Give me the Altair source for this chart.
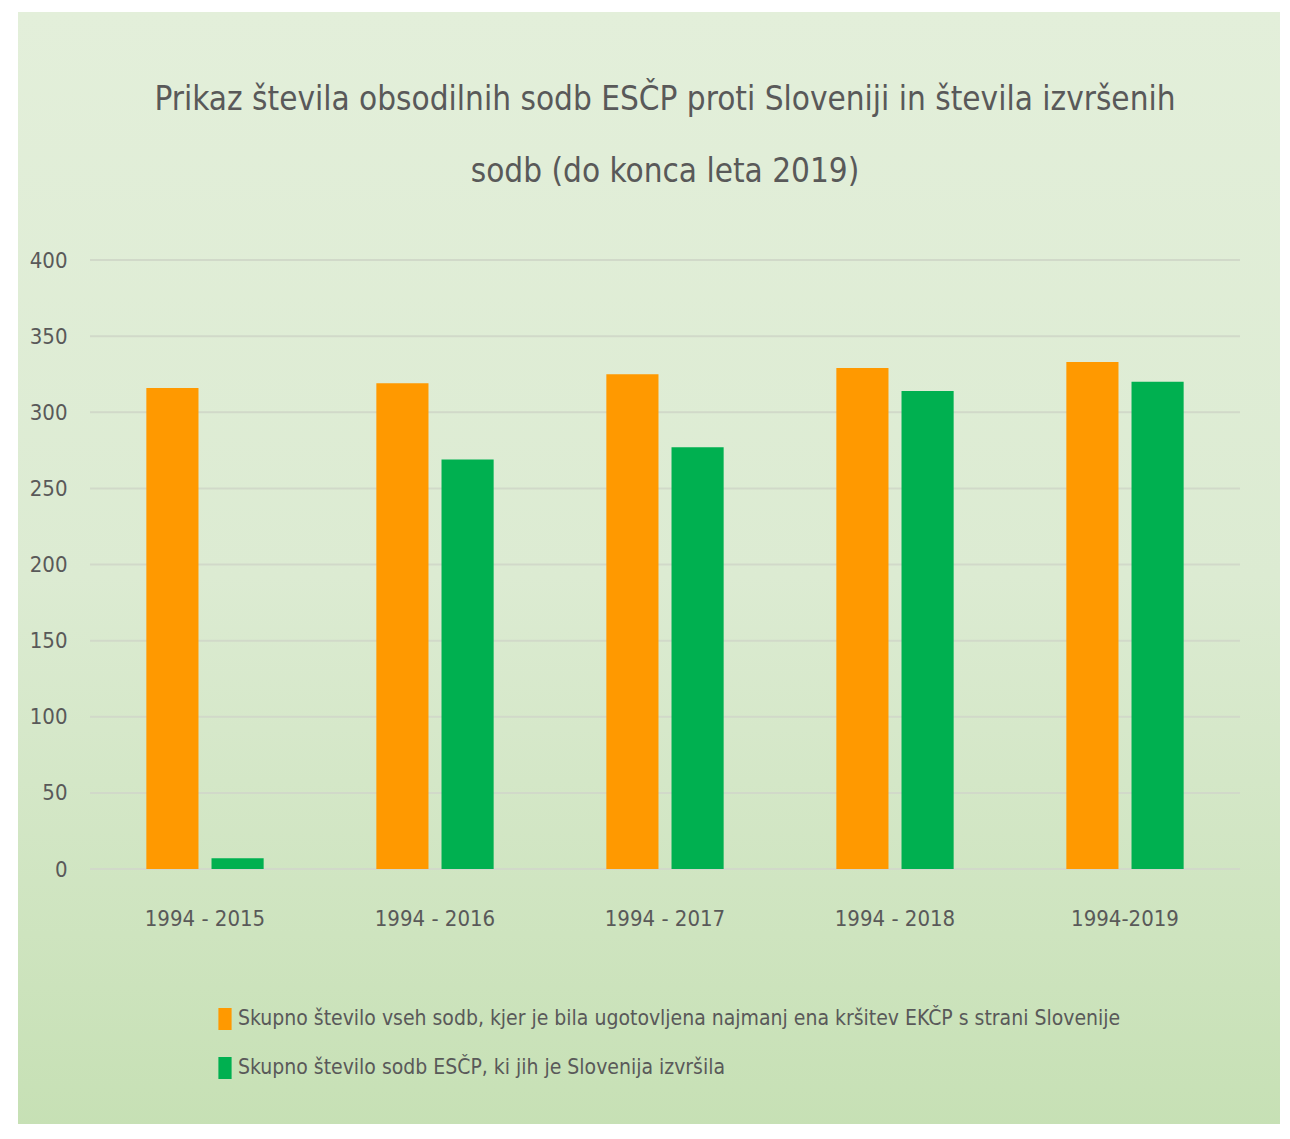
import altair as alt
import pandas as pd

periods = ["1994 - 2015", "1994 - 2016", "1994 - 2017", "1994 - 2018", "1994-2019"]
series_names = [
    "Skupno število vseh sodb, kjer je bila ugotovljena najmanj ena kršitev EKČP s strani Slovenije",
    "Skupno število sodb ESČP, ki jih je Slovenija izvršila",
]
total_judgments = [316, 319, 325, 329, 333]
executed_judgments = [7, 269, 277, 314, 320]
series_colors = ["#FF9900", "#00B050"]
y_ticks = [0, 50, 100, 150, 200, 250, 300, 350, 400]
title_lines = [
    "Prikaz števila obsodilnih sodb ESČP proti Sloveniji in števila izvršenih",
    "sodb (do konca leta 2019)",
]

rows = []
for p, a, b in zip(periods, total_judgments, executed_judgments):
    rows.append({"period": p, "series": series_names[0], "value": a})
    rows.append({"period": p, "series": series_names[1], "value": b})
df = pd.DataFrame(rows)
grid_df = pd.DataFrame({"value": y_ticks})

FONT = "Liberation Sans Narrow, DejaVu Sans Condensed, Roboto, sans-serif"
TXT = "#595959"

W, H = 1150, 609
PL, PT = 82, 252

bg = alt.Chart(alt.Data(values=[{}])).mark_rect(
    color=alt.LinearGradient(
        gradient="linear",
        stops=[
            alt.GradientStop(color="#E3EFDA", offset=0),
            alt.GradientStop(color="#DCEBD2", offset=0.5),
            alt.GradientStop(color="#C6E0B4", offset=1),
        ],
        x1=0, x2=0, y1=0, y2=1,
    )
).encode(
    x=alt.value(18 - 8 - PL),
    x2=alt.value(1290 - 8 - PL),
    y=alt.value(12 - 8 - PT),
    y2=alt.value(1139 - 8 - PT),
)

y_scale = alt.Scale(domain=[0, 400])

grid = alt.Chart(grid_df).mark_rule(color="#D1D9C9", strokeWidth=2).encode(
    y=alt.Y("value:Q", scale=y_scale),
    x=alt.value(0),
    x2=alt.value(W),
)

bars = alt.Chart(df).mark_bar(stroke=None).encode(
    x=alt.X(
        "period:N",
        sort=periods,
        title=None,
        scale=alt.Scale(paddingInner=0.49, paddingOuter=0.245),
        axis=alt.Axis(
            labelAngle=0,
            domain=False,
            ticks=False,
            grid=False,
            labelFont=FONT,
            labelFontSize=22,
            labelColor=TXT,
            labelPadding=39,
            zindex=2,
        ),
    ),
    xOffset=alt.XOffset("series:N", sort=series_names, scale=alt.Scale(paddingInner=0.2)),
    y=alt.Y(
        "value:Q",
        title=None,
        scale=y_scale,
        axis=alt.Axis(
            values=y_ticks,
            domain=False,
            ticks=False,
            grid=False,
            labelFont=FONT,
            labelFontSize=22,
            labelColor=TXT,
            labelPadding=23,
            zindex=2,
        ),
    ),
    color=alt.Color(
        "series:N",
        sort=series_names,
        scale=alt.Scale(domain=series_names, range=series_colors),
        legend=alt.Legend(
            title=None,
            orient="none",
            legendX=124,
            legendY=748,
            direction="vertical",
            symbolType="M-0.6,-1L0.6,-1L0.6,1L-0.6,1Z",
            symbolSize=484,
            symbolStrokeWidth=0,
            labelFont=FONT,
            labelFontSize=21,
            labelColor=TXT,
            labelOffset=2,
            rowPadding=27,
            labelLimit=1200,
        ),
    ),
)

chart = alt.layer(bg, grid, bars).properties(
    width=W,
    height=H,
    autosize=alt.AutoSizeParams(type="none"),
    padding={"left": PL, "top": PT, "right": 40, "bottom": 255},
    background="white",
    title=alt.TitleParams(
        text=title_lines,
        anchor="middle",
        frame="group",
        font=FONT,
        fontSize=33,
        fontWeight="normal",
        color=TXT,
        lineHeight=72,
        offset=0,
        dy=177,
    ),
).configure_view(stroke=None)

chart.save("out.html", embed_options={"renderer": "svg", "actions": False})
